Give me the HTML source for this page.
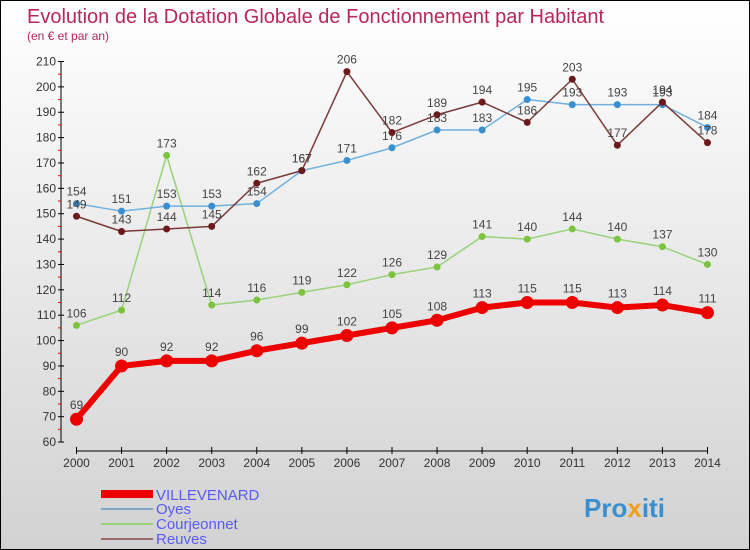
<!DOCTYPE html>
<html><head><meta charset="utf-8"><style>
body{margin:0}
#c{width:750px;height:550px;position:relative;overflow:hidden;box-sizing:border-box;border:1px solid #000;background:linear-gradient(#ffffff,#d2d2d2);font-family:"Liberation Sans",sans-serif}
</style></head><body>
<div id="c">
<svg id="s" width="750" height="550" style="position:absolute;left:0;top:0">
<text x="26" y="22" font-size="20" fill="#b8265a">Evolution de la Dotation Globale de Fonctionnement par Habitant</text>
<text x="26" y="39" font-size="12" fill="#b8265a">(en € et par an)</text>
<g id="ax"></g><g id="series"></g>
<g>
<rect x="100" y="489" width="52" height="8" fill="#e00"/>
<text x="155" y="499" font-size="15" fill="#5b5bf0">VILLEVENARD</text>
<rect x="100" y="507" width="52" height="2" fill="#7fa8c8"/>
<text x="155" y="513" font-size="15" fill="#5b5bf0">Oyes</text>
<rect x="100" y="522" width="52" height="2" fill="#99d27a"/>
<text x="155" y="528" font-size="15" fill="#5b5bf0">Courjeonnet</text>
<rect x="100" y="537" width="52" height="2" fill="#9a6a6a"/>
<text x="155" y="543" font-size="15" fill="#5b5bf0">Reuves</text>
</g>
<text x="583" y="516" font-size="26" font-weight="bold" fill="#3a8fd0">Pro<tspan fill="#f0a020">x</tspan>iti</text>
</svg>
</div>
<script>
const years=[2000,2001,2002,2003,2004,2005,2006,2007,2008,2009,2010,2011,2012,2013,2014];
const villevenard=[69,90,92,92,96,99,102,105,108,113,115,115,113,114,111];
const oyes=[154,151,153,153,154,167,171,176,183,183,195,193,193,193,184];
const courjeonnet=[106,112,173,114,116,119,122,126,129,141,140,144,140,137,130];
const reuves=[149,143,144,145,162,167,206,182,189,194,186,203,177,194,178];
const yTicks=[60,70,80,90,100,110,120,130,140,150,160,170,180,190,200,210];
const NS='http://www.w3.org/2000/svg';
const X=i=>75.5+i*45.07;
const Y=v=>60.5+(210-v)*2.537;
function mk(t,a,p){const e=document.createElementNS(NS,t);for(const k in a)e.setAttribute(k,a[k]);p.appendChild(e);return e;}
const ax=document.getElementById('ax');
let yl=mk('line',{x1:60,y1:Y(210),x2:60,y2:Y(60),stroke:'#000'},ax);


let xl=mk('line',{x1:X(0),y1:450,x2:X(14),y2:450,stroke:'#000'},ax);


yTicks.forEach(v=>{
  mk('line',{x1:57,y1:Y(v),x2:63,y2:Y(v),stroke:'#000'},ax);
  if(v<210)mk('line',{x1:57,y1:Y(v+5),x2:60,y2:Y(v+5),stroke:'#e00'},ax);
  const t=mk('text',{x:55,y:Y(v)+4,'font-size':12,'text-anchor':'end',fill:'#333'},ax);
  t.textContent=v;
  
  
});
years.forEach((y,i)=>{
  mk('line',{x1:X(i),y1:446,x2:X(i),y2:453,stroke:'#000'},ax);
  const t=mk('text',{x:X(i),y:466,'font-size':12,'text-anchor':'middle',fill:'#333'},ax);
  t.textContent=y;
  
  
});
const sg=document.getElementById('series');
function draw(arr,name,color,dot,w,r,big){
  const g=mk('g',{},sg);
  
  
  const pts=arr.map((v,i)=>X(i)+','+Y(v)).join(' ');
  mk('polyline',{points:pts,fill:'none',stroke:color,'stroke-width':w,'stroke-linejoin':'round'},g);
  arr.forEach((v,i)=>{
    const c=mk('circle',{cx:X(i),cy:Y(v),r:r,fill:dot},g);
    
    
    const t=mk('text',{x:X(i),y:Y(v)-(big?10:8),'font-size':12,'text-anchor':'middle',fill:'#444'},g);
    t.textContent=v;
    
    
  });
}
draw(courjeonnet,'courjeonnet','#99d27a','#7cc440',1.5,3.5);
draw(oyes,'oyes','#6fb0e0','#3a8fd0',1.5,3.5);
draw(reuves,'reuves','#7a3a3a','#6a1a1a',1.5,3.5);
draw(villevenard,'villevenard','#e00','#e00',6,6.5,true);
</script>
</body></html>
